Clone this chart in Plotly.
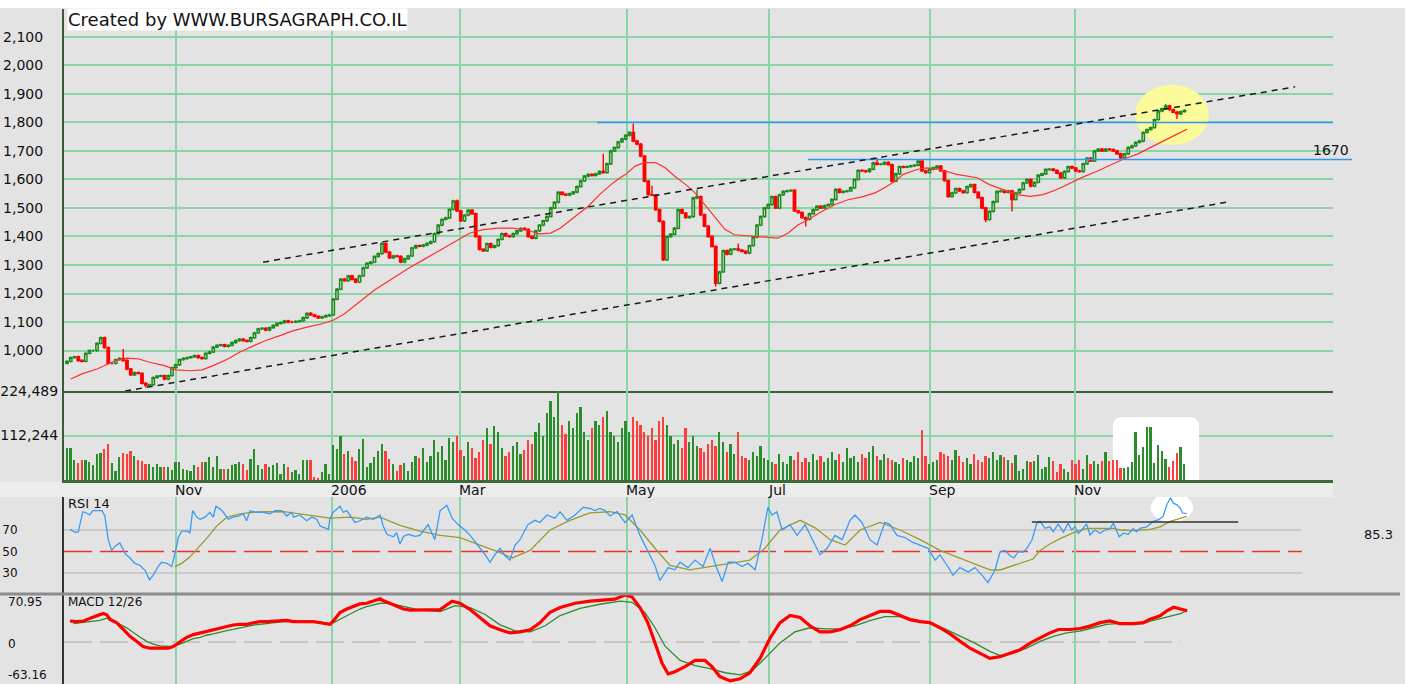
import plotly.graph_objects as go

# ---------------- data ----------------
# trading-day index 0..298, daily closes of the index
closes = [
    962, 975, 978, 965, 962, 990, 1000, 1000, 1025, 1045,
    1010, 955, 955, 968, 972, 965, 935, 915, 922, 920,
    885, 878, 880, 905, 910, 912, 900, 912, 940, 950,
    968, 972, 975, 978, 982, 975, 972, 990, 995, 1012,
    1018, 1020, 1015, 1018, 1028, 1035, 1040, 1035, 1032, 1045,
    1062, 1076, 1078, 1072, 1080, 1088, 1095, 1098, 1104, 1100,
    1100, 1102, 1104, 1115, 1130, 1125, 1120, 1115, 1118, 1122,
    1125, 1180, 1215, 1250, 1245, 1262, 1250, 1240, 1262, 1290,
    1306, 1310, 1330, 1340, 1376, 1345, 1325, 1332, 1330, 1310,
    1322, 1332, 1360, 1368, 1366, 1370, 1376, 1382, 1410, 1440,
    1460, 1465, 1495, 1525, 1490, 1455, 1475, 1492, 1480, 1400,
    1355, 1350, 1375, 1362, 1368, 1390, 1410, 1402, 1400, 1410,
    1420, 1428, 1425, 1400, 1394, 1420, 1440, 1455, 1470, 1500,
    1520, 1555, 1548, 1545, 1550, 1556, 1575, 1595, 1612, 1618,
    1614, 1620, 1628, 1624, 1655, 1700, 1712, 1732, 1742, 1755,
    1765, 1735, 1724, 1682, 1594, 1547, 1545, 1494, 1453, 1318,
    1400, 1408, 1429, 1494, 1482, 1466, 1470, 1535, 1540, 1476,
    1436, 1400, 1365, 1236, 1276, 1350, 1338, 1355, 1356, 1352,
    1348, 1342, 1368, 1398, 1440, 1470, 1500, 1512, 1540, 1500,
    1546, 1558, 1560, 1562, 1490, 1484, 1466, 1460, 1480, 1494,
    1506, 1500, 1508, 1512, 1530, 1565, 1555, 1558, 1560, 1571,
    1600, 1632, 1630, 1628, 1636, 1658, 1653, 1654, 1660, 1652,
    1594, 1620, 1645, 1643, 1645, 1648, 1650, 1664, 1630, 1624,
    1636, 1641, 1647, 1630, 1596, 1540, 1553, 1568, 1560, 1554,
    1575, 1582, 1555, 1536, 1500, 1459, 1488, 1522, 1558, 1560,
    1555, 1560, 1530, 1553, 1565, 1588, 1600, 1577, 1590, 1615,
    1620, 1635, 1636, 1632, 1622, 1606, 1628, 1645, 1640, 1630,
    1628, 1655, 1675, 1665, 1700, 1706, 1700, 1706, 1705, 1700,
    1690, 1676, 1690, 1712, 1718, 1730, 1735, 1765, 1775, 1782,
    1810, 1840, 1848, 1858, 1845, 1836, 1830, 1838, 1842,
]
first_open = 955
wick_high = {15: 1005, 65: 1135, 104: 1530, 143: 1690, 151: 1796, 156: 1578,
             168: 1565, 179: 1375, 216: 1675, 227: 1672, 293: 1865, 294: 1862}
wick_low = {21: 870, 173: 1225, 197: 1435, 245: 1450, 252: 1488, 296: 1812}

# daily volume, thousands
volume_k = [
    81, 81, 50, 42, 50, 50, 45, 37, 65, 69,
    77, 91, 42, 23, 57, 69, 65, 72, 61, 50,
    49, 41, 41, 33, 41, 34, 33, 34, 26, 45,
    45, 28, 26, 23, 37, 33, 45, 45, 57, 34,
    61, 28, 28, 28, 37, 41, 45, 41, 26, 54,
    77, 37, 28, 41, 33, 37, 42, 16, 41, 33,
    20, 26, 16, 50, 50, 50, 8, 6, 20, 41,
    15, 89, 77, 110, 65, 73, 57, 49, 77, 104,
    34, 42, 57, 72, 91, 73, 53, 41, 23, 37,
    42, 23, 45, 61,
    55, 80, 45, 60, 100, 70, 85, 50, 105, 95,
    110, 75, 60, 95, 80, 55, 70, 100, 130, 90,
    135, 120, 80, 60, 70, 85, 95, 65, 75, 100,
    90, 120, 145, 110, 170, 200, 160, 240, 140, 115,
    150, 130, 170, 185, 120, 100, 130, 150, 140, 160,
    175, 120, 110, 95, 130, 150, 120, 160, 150, 140,
    120, 110, 130, 100, 150, 160, 140, 110, 90, 100,
    80, 130, 95, 110, 85, 80, 70, 90, 100, 85,
    120, 95, 70, 90, 65, 120, 60, 55, 50, 70,
    60, 85, 55, 50, 45, 40, 65, 45, 40, 60,
    50, 70, 45, 55, 45, 65, 50, 60, 45, 55,
    70, 50, 65, 45, 80, 55, 60, 45, 65, 55,
    70, 85, 60, 50, 65, 55, 50, 45, 40, 55,
    50, 45, 60, 55, 125, 60, 40, 45, 50, 70,
    65, 60, 50, 75, 60, 45, 55, 40, 65, 50,
    45, 60, 55, 70, 50,
    64, 58, 50, 43, 63, 22, 28, 48, 46, 48,
    63, 28, 34, 59, 48, 20, 40, 28, 20, 50,
    40, 50, 28, 64, 40, 48, 40, 48, 71, 48,
    50, 50, 30, 30, 34, 46, 120, 63, 84, 134,
    134, 44, 88, 72, 52, 34, 48, 68, 83, 40,
]

# moving average of the price (day, value)
ma_points = [
    (1, 900), (4, 918), (8, 935), (11, 953), (13, 965), (16, 973), (19, 971), (22, 959),
    (26, 947), (29, 932), (33, 929), (36, 932), (39, 947), (43, 971), (46, 994), (50, 1018),
    (53, 1035), (57, 1053), (60, 1068), (64, 1082), (68, 1094), (71, 1106), (74, 1129),
    (82, 1212), (86, 1247), (91, 1288), (95, 1318), (99.5, 1353), (104, 1388), (107, 1409),
    (108, 1414), (111, 1424), (115, 1429), (119, 1429), (123, 1421), (126, 1409), (129, 1412),
    (131.5, 1429), (135, 1465), (139, 1506), (142, 1547), (145.6, 1588), (147.5, 1606),
    (149, 1618), (151.5, 1647), (154, 1659), (157, 1659), (159.5, 1641), (162, 1612),
    (165, 1582), (167.5, 1553), (170, 1512), (173, 1465), (175.5, 1424), (178, 1406),
    (181.6, 1402), (185.3, 1398), (188, 1394), (189.6, 1394), (192.3, 1412), (195, 1441),
    (197.6, 1459), (201.3, 1488), (204.8, 1512), (208.3, 1529), (212, 1539), (215.5, 1553),
    (218, 1571), (220.8, 1594), (223, 1618), (226.7, 1635), (229.3, 1641), (232.8, 1635),
    (237.3, 1618), (242.7, 1606), (246, 1582), (249.6, 1565), (253.3, 1547), (256.8, 1541),
    (260.3, 1547), (264, 1565), (267.5, 1588), (271, 1609), (274.7, 1629), (278, 1649),
    (281.6, 1671), (285.3, 1688), (288.8, 1712), (292.3, 1735), (296, 1759), (298.7, 1776),
]

rsi_points = [
    (0.8, 70.6), (2.1, 68), (3, 68), (4.2, 87), (5.1, 86), (6, 84), (6.9, 88), (7.5, 88),
    (9.3, 88), (10.1, 83), (10.6, 70.6), (11, 61), (11.9, 51), (12.8, 55), (14.1, 58),
    (15.5, 48), (16.8, 44), (18.1, 39), (19.5, 37), (20.8, 32.5), (22, 23.7), (23, 28),
    (24.3, 36), (25.2, 40), (26.6, 39), (27.9, 36), (28.8, 48), (29.7, 63), (30.6, 69),
    (31.9, 69), (32.8, 67.5), (33.5, 88), (34.6, 82), (35.5, 80), (36.8, 82), (38.1, 86.5),
    (39, 82), (39.7, 92), (40.8, 89.7), (41.7, 86.5), (43, 80), (44.3, 82), (45.7, 83),
    (47, 85), (47.9, 78.6), (48.8, 88), (50.6, 86.5), (52.4, 86.5), (54.1, 85), (55.5, 88),
    (57.3, 88), (58.6, 83), (59.9, 86.5), (60.4, 82), (62.1, 84), (63.9, 78.6), (65.3, 82),
    (66.6, 80), (67.5, 73.8), (68.8, 72), (69.7, 70.6), (70.1, 80), (71, 86.5), (72.8, 92),
    (73.7, 86.5), (74.6, 88), (75.5, 83), (76.8, 77), (78.1, 78.6), (79.9, 82), (81.7, 80),
    (83.5, 84), (84.3, 74), (85.3, 66), (87, 63.7), (87.9, 67.5), (88.8, 57), (89.7, 64),
    (91, 66), (92.8, 64), (94.1, 65), (96.3, 75), (98.1, 61), (99.5, 88), (101.3, 93),
    (102.7, 81), (104.3, 75), (106.1, 70), (107.5, 65), (109.6, 56), (111.5, 47), (112.8, 40),
    (114.1, 47), (115.5, 53), (116.8, 46), (118.1, 42), (119.5, 56), (120.8, 61), (122.9, 75),
    (124.8, 79), (126.1, 77), (128, 84), (130.1, 81), (131.5, 87), (133.3, 79), (135.5, 84),
    (137.6, 91), (139.5, 90), (140.8, 88), (142.1, 90), (143.5, 88), (144.8, 83), (146.7, 87),
    (148.8, 77), (150.7, 84), (152.8, 65), (154.9, 50), (156.8, 37), (158.1, 23), (160.3, 35),
    (162.1, 33), (163.5, 40), (165.6, 35), (167.5, 42), (169.6, 36), (171.5, 53), (173.1, 36),
    (174.7, 22), (176.3, 40), (178.1, 40), (180, 36), (181.6, 39), (183.5, 33), (185.3, 61),
    (186.9, 91), (188, 84), (189.3, 87), (190.7, 70), (192.8, 75), (194.7, 65), (196.8, 75),
    (198.7, 61), (200.8, 47), (202.7, 53), (204.8, 65), (206.7, 61), (208.8, 79), (210.1, 84),
    (212, 77), (214.1, 61), (216, 56), (218.1, 77), (219.5, 75), (221.3, 65), (223.5, 63),
    (225.3, 59), (227.5, 56), (229.6, 53), (231.5, 42), (232.8, 47), (234.7, 37), (236.3, 28),
    (238.1, 35), (240.3, 31), (242.1, 35), (244, 28), (245.6, 21), (247.5, 33), (248.8, 49.5),
    (250.1, 51), (251.5, 46), (252.5, 44), (253.7, 50), (255, 49.5), (255.9, 52.6),
    (257.3, 60.5), (258.6, 76), (259.5, 78), (260.8, 71.6), (262.1, 73), (263, 68.4),
    (264.3, 75.7), (265.7, 68), (267, 76.3), (267.9, 70), (268.8, 73), (269.7, 66.8),
    (270.6, 70), (271.9, 75.7), (272.8, 65.3), (274.1, 70), (275.5, 67), (276.8, 70),
    (278.1, 71), (279, 76.3), (279.9, 70), (280.6, 63.7), (281.7, 67), (283, 66),
    (284.3, 71.5), (285.2, 68.4), (286.1, 71.5), (287.9, 73), (289.7, 78), (291, 79.5),
    (292.3, 82.6), (293.3, 93.7), (294.3, 100), (295, 95), (295.9, 93.7), (296.8, 90.5),
    (297.5, 85.8), (298.6, 85.3),
]

rsi_signal_points = [
    (28.8, 36), (30.6, 39), (32.8, 45), (35.5, 55), (37.7, 64), (40, 74), (42.7, 82),
    (46.2, 85), (49.8, 86.5), (53.3, 87), (57.8, 87), (62.1, 85), (66.6, 82.7), (70.1, 81),
    (75.5, 82), (79.9, 80), (83.5, 82), (86.1, 78.6), (88.8, 74.4), (94.1, 69), (99.5, 65),
    (104.8, 63), (110.1, 56), (115.5, 49), (118.7, 44), (123.5, 51), (128.8, 70), (134.1, 79),
    (139.5, 86), (144.8, 87), (148.8, 84), (152.8, 70), (156.8, 53), (160.8, 37), (166.1, 33),
    (171.5, 36), (176.8, 39), (182.1, 42), (186.1, 53), (190.1, 70), (195.5, 79), (199.5, 72),
    (203.5, 61), (207.5, 56), (211.5, 70), (216.8, 77), (222.1, 70), (227.5, 61), (232.8, 51),
    (238.1, 44), (243.5, 37), (246.1, 33), (248.8, 32.8), (252.3, 37), (257.6, 43),
    (259.5, 51), (262.1, 57), (264.8, 62), (268.4, 67.5), (271.9, 71.6), (275.5, 71.6),
    (279, 71.6), (280.8, 70), (284.3, 69.4), (288.8, 70.5), (291.5, 73), (294.2, 78),
    (296, 80), (298.6, 82.6),
]

macd_points = [
    (0.8, 31.8), (2.6, 30.8), (4.4, 31.8), (6.1, 36), (7.9, 39.5), (9.7, 43), (10.6, 41),
    (11.5, 34), (13.3, 29), (15, 19), (16.8, 8.7), (18.6, 1), (20.3, -6.7), (22.1, -9.2),
    (23.9, -9.2), (25.7, -10.3), (27, -9.2), (28.3, -6.7), (30.1, 1), (31.9, 7.2), (33.7, 11.3),
    (35.5, 13.9), (37.2, 16.4), (39, 19), (40.8, 21.5), (42.6, 24), (44.3, 25.7), (46.1, 26.7),
    (47.9, 26.7), (49.7, 29.2), (51.5, 30.8), (53.3, 30.8), (55, 31.8), (56.8, 31.8),
    (58.6, 32.8), (60.4, 30.8), (62.1, 30.8), (63.9, 30.8), (65.7, 30.8), (67.5, 29.2),
    (69.3, 26.7), (70.1, 26.7), (71, 31.8), (71.9, 38), (72.8, 44.6), (74.6, 49.8),
    (76.3, 53.4), (78.1, 57.5), (79.9, 58.5), (81.7, 61.6), (83.5, 65.2), (84.3, 62.6),
    (86.1, 58.5), (87.9, 55), (89.7, 49.8), (91.5, 48.2), (94.1, 48.2), (99.5, 49),
    (102.7, 61.6), (104.8, 58.5), (107.5, 49), (110.1, 37), (112.8, 24.6), (115.5, 18.5),
    (118.1, 13.9), (120.8, 15.4), (123.5, 18.5), (126.1, 29), (128.8, 44.7), (131.5, 52),
    (135.5, 58.5), (139.5, 61.6), (143.5, 63), (146.1, 64.7), (148.8, 71), (150.7, 67.8),
    (152.8, 52), (154.9, 29), (156.8, -1.5), (158.7, -32), (160.3, -47.7), (162.1, -44.7),
    (164.8, -37), (167.5, -27.7), (170.1, -27.7), (172, -37), (174.1, -52), (176.8, -58.5),
    (179.5, -55.4), (182.1, -46.2), (184.8, -24.6), (187.5, 6.2), (190.1, 29), (192.8, 40),
    (195.5, 37), (198.1, 24.6), (200.8, 15.4), (203.5, 15.4), (206.1, 18.5), (208.8, 24.6),
    (211.5, 33.9), (214.1, 40), (216.8, 46.2), (219.5, 46.2), (222.1, 40), (224.8, 33.9),
    (227.5, 30.8), (230.1, 29.3), (232.8, 21.6), (235.5, 12.3), (238.1, 1.5), (240.8, -9.2),
    (243.5, -17), (246.1, -24.6), (248.8, -22), (251.5, -17), (254.1, -11.8), (256.8, -1.5),
    (259.5, 6.2), (262.1, 13.9), (264.4, 19), (267.5, 19), (270.1, 20.5), (272.8, 24.1),
    (275.5, 29.3), (278.1, 31.8), (280.8, 27.7), (284.4, 27.7), (287, 29.3), (288.8, 34.4),
    (291.5, 39.5), (293.3, 47.2), (295.1, 52.4), (296.9, 49.8), (298.7, 47.2),
]

macd_signal_points = [
    (1.7, 27.7), (3.5, 29.2), (5.2, 30.8), (7, 31.8), (8.8, 32.8), (10.6, 36), (12.3, 32),
    (14.1, 26.7), (15.9, 21.5), (17.7, 13.9), (19.5, 7.2), (21.3, 1), (23, -3), (24.8, -5.6),
    (26.6, -6.7), (28.3, -6.7), (30.1, -3), (31.9, 1), (33.7, 5.1), (35.5, 7.2), (37.2, 10.3),
    (39, 12.3), (40.8, 15.4), (42.6, 17.4), (44.3, 19), (46.1, 21.5), (47.9, 23), (49.7, 25.7),
    (51.5, 26.7), (53.3, 28.2), (55, 29.2), (57.7, 30.8), (62.1, 30.8), (67.5, 30.3),
    (70.1, 27.7), (71, 29), (72.8, 34.4), (74.6, 39.5), (76.3, 44.6), (78.1, 49.8),
    (79.9, 53.4), (81.7, 56.4), (83.5, 58.5), (85.2, 58.5), (87, 57.5), (88.8, 55),
    (91.5, 51.3), (94.1, 48.2), (99.5, 46), (103.5, 55), (107.5, 52), (111.5, 41.6),
    (115.5, 26), (119.5, 17), (123.5, 15.4), (127.5, 24.6), (131.5, 40), (136.8, 50.8),
    (142.1, 57), (147.5, 61.6), (150.7, 60), (154.1, 44.7), (156.8, 21.6), (159.5, -6.2),
    (163.5, -27.7), (167.5, -35.4), (171.5, -40), (175.5, -46.2), (179.5, -49.3),
    (182.7, -43), (186.1, -24.6), (190.1, -1.5), (194.1, 15.4), (198.1, 21.6), (202.1, 20),
    (206.1, 20), (210.1, 24.6), (214.1, 32.3), (218.1, 38.5), (222.1, 38.5), (226.1, 33.9),
    (230.1, 27.7), (234.1, 20), (238.1, 9.2), (242.1, -1.5), (246.1, -13.9), (248.8, -20),
    (252.3, -17), (255.9, -9.2), (259.5, 1), (263, 8.7), (266.6, 13.9), (270.1, 16.4),
    (273.7, 21.6), (277.2, 26.7), (279.9, 27.7), (284.4, 27.7), (287, 27.7), (289.7, 32.9),
    (293.3, 38), (296.9, 43), (298.7, 47.2),
]

month_days = [29.1, 70.7, 104.8, 149.3, 187.2, 230.1, 268.8]
month_labels = ["Nov", "2006", "Mar", "May", "Jul", "Sep", "Nov"]
price_ticks = [1000, 1100, 1200, 1300, 1400, 1500, 1600, 1700, 1800, 1900, 2000, 2100]
volume_ticks_k = [112.244, 224.489]
volume_tick_text = ["112,244", "224,489"]
rsi_ticks = [30, 50, 70]
macd_labels = ["70.95", "0", "-63.16"]
macd_range = [-63.16, 70.95]

# drawn annotations on the price panel: (day, price) end points
trend_lines = [((52.3, 1310), (327.5, 1925)), ((15.5, 858), (309.6, 1521))]
level_1800 = 1800
level_1670 = 1670
rsi_marker_level = 77.4
last_rsi_text = "85.3"

# ---------------- geometry helpers ----------------
W, H = 1412, 684
L, R, T, B = 64, 1333, 9, 684


def fx(p):
    return (p - L) / (R - L)


def fy(p):
    return (B - p) / (B - T)


BG = "#e3e3e3"
GRID = "#8ad5a6"
FONT = "DejaVu Sans"

days = list(range(len(closes)))
opens = [first_open] + closes[:-1]
highs = [wick_high.get(i, max(o, c) + 4) for i, (o, c) in enumerate(zip(opens, closes))]
lows = [wick_low.get(i, min(o, c) - 4) for i, (o, c) in enumerate(zip(opens, closes))]
vol_colors = ["#2a8c2a" if c >= o else "#ff3d3d" for o, c in zip(opens, closes)]

ma_day, ma_val = zip(*ma_points)
rsi_day, rsi_val = zip(*rsi_points)
rsig_day, rsig_val = zip(*rsi_signal_points)
macd_day, macd_val = zip(*macd_points)
msig_day, msig_val = zip(*macd_signal_points)

fig = go.Figure()
fig.add_trace(go.Candlestick(
    x=days, open=opens, high=highs, low=lows, close=closes, xaxis="x", yaxis="y",
    increasing=dict(line=dict(color="#1e8a1e", width=1.4), fillcolor="#b8dcb8"),
    decreasing=dict(line=dict(color="#ff0000", width=1.4), fillcolor="#ff0000"),
    whiskerwidth=0, hoverinfo="skip", showlegend=False))
fig.add_trace(go.Scatter(x=ma_day, y=ma_val, mode="lines", xaxis="x", yaxis="y",
                         line=dict(color="#ff3030", width=1.2), showlegend=False))
fig.add_trace(go.Bar(x=days, y=volume_k, xaxis="x2", yaxis="y2", width=0.5,
                     marker=dict(color=vol_colors, line=dict(width=0)), showlegend=False))
fig.add_trace(go.Scatter(x=rsig_day, y=rsig_val, mode="lines", xaxis="x3", yaxis="y3",
                         line=dict(color="#9c9a30", width=1.3), showlegend=False))
fig.add_trace(go.Scatter(x=rsi_day, y=rsi_val, mode="lines", xaxis="x3", yaxis="y3",
                         line=dict(color="#3b9cf5", width=1.3), showlegend=False))
fig.add_trace(go.Scatter(x=msig_day, y=msig_val, mode="lines", xaxis="x4", yaxis="y4",
                         line=dict(color="#2e8b2e", width=1.3), showlegend=False))
fig.add_trace(go.Scatter(x=macd_day, y=macd_val, mode="lines", xaxis="x4", yaxis="y4",
                         line=dict(color="#ff0000", width=3.2), showlegend=False))

x_range = [-0.8, 337.6]
common_x = dict(range=x_range, tickvals=month_days, showticklabels=False, showgrid=True,
                gridcolor=GRID, gridwidth=1.5, zeroline=False, ticks="", fixedrange=True)
axis_font = dict(family=FONT, size=14, color="#111111")

shapes = []
# white borders of the picture
shapes.append(dict(type="rect", xref="paper", yref="paper", x0=fx(1405), x1=fx(1415),
                   y0=fy(690), y1=fy(-5), fillcolor="white", line=dict(width=0), layer="above"))
shapes.append(dict(type="rect", xref="paper", yref="paper", x0=fx(-5), x1=fx(1415),
                   y0=fy(8), y1=fy(-5), fillcolor="white", line=dict(width=0), layer="above"))
# date label band
shapes.append(dict(type="rect", xref="paper", yref="paper", x0=fx(0), x1=fx(1333),
                   y0=fy(497), y1=fy(482), fillcolor="#ececec", line=dict(width=0), layer="below"))
# separator between RSI and MACD
shapes.append(dict(type="line", xref="paper", yref="paper", x0=fx(0), x1=fx(1400),
                   y0=fy(594), y1=fy(594), line=dict(color="#8c8c8c", width=3)))
# yellow highlight
shapes.append(dict(type="circle", xref="x", yref="y", x0=284.8, x1=304.5, y0=1721, y1=1932,
                   fillcolor="#fbfb9c", line=dict(width=0), layer="between"))
# horizontal levels
shapes.append(dict(type="line", xref="paper", yref="y", x0=fx(597), x1=fx(1333),
                   y0=level_1800, y1=level_1800, line=dict(color="#2f97f2", width=1.5)))
shapes.append(dict(type="line", xref="paper", yref="y", x0=fx(808), x1=fx(1352),
                   y0=level_1670, y1=level_1670, line=dict(color="#2f97f2", width=1.5)))
# trend channel
for (d0, p0), (d1, p1) in trend_lines:
    shapes.append(dict(type="line", xref="x", yref="y", x0=d0, y0=p0, x1=d1, y1=p1,
                       line=dict(color="#1a1a1a", width=1.5, dash="6px,5px")))
# white rounded box in volume panel
bx0, bx1, by0, by1, rx, ry = 278.9, 301.9, 0, 158.9, 2.7, 25
shapes.append(dict(
    type="path", xref="x2", yref="y2", layer="between", fillcolor="white", line=dict(width=0),
    path=(f"M {bx0},{by0} L {bx1},{by0} L {bx1},{by1 - ry} Q {bx1},{by1} {bx1 - rx},{by1} "
          f"L {bx0 + rx},{by1} Q {bx0},{by1} {bx0},{by1 - ry} Z")))
# RSI reference lines
for lvl in (30, 70):
    shapes.append(dict(type="line", xref="x3", yref="y3", x0=-0.8, x1=329.3, y0=lvl, y1=lvl,
                       line=dict(color="#c2c2c2", width=1.5), layer="below"))
shapes.append(dict(type="line", xref="x3", yref="y3", x0=-0.8, x1=329.3, y0=50, y1=50,
                   line=dict(color="#e8342f", width=1.5, dash="28px,8px"), layer="below"))
shapes.append(dict(type="circle", xref="x3", yref="y3", x0=289, x1=300.3, y0=77.4, y1=104.4,
                   fillcolor="white", line=dict(width=0), layer="between"))
shapes.append(dict(type="line", xref="x3", yref="y3", x0=257.3, x1=312.3,
                   y0=rsi_marker_level, y1=rsi_marker_level, line=dict(color="#333333", width=1.5)))
# MACD zero line
shapes.append(dict(type="line", xref="x4", yref="y4", x0=-0.8, x1=297, y0=0, y1=0,
                   line=dict(color="#bdbdbd", width=1.5, dash="28px,8px"), layer="below"))

annotations = []
annotations.append(dict(text="Created by WWW.BURSAGRAPH.CO.IL", xref="paper", yref="paper",
                        x=fx(67), y=fy(20), xanchor="left", yanchor="middle", showarrow=False,
                        bgcolor="white", borderpad=0, font=dict(family=FONT, size=18, color="#111")))
for d, lab in zip(month_days, month_labels):
    annotations.append(dict(text=lab, xref="x2", yref="paper", x=d, y=fy(490), xanchor="left",
                            yanchor="middle", xshift=-3, showarrow=False,
                            font=dict(family=FONT, size=14, color="#111")))
annotations.append(dict(text="RSI 14", xref="paper", yref="paper", x=fx(66), y=fy(503),
                        xanchor="left", yanchor="middle", showarrow=False,
                        font=dict(family=FONT, size=13, color="#111")))
annotations.append(dict(text="MACD 12/26", xref="paper", yref="paper", x=fx(66), y=fy(602),
                        xanchor="left", yanchor="middle", showarrow=False,
                        font=dict(family=FONT, size=12, color="#111")))
for lab, ypx in zip(macd_labels, (602, 644, 675)):
    annotations.append(dict(text=lab, xref="paper", yref="paper", x=fx(6), y=fy(ypx),
                            xanchor="left", yanchor="middle", showarrow=False,
                            font=dict(family=FONT, size=12, color="#111")))
annotations.append(dict(text=last_rsi_text, xref="paper", yref="paper", x=fx(1362), y=fy(534),
                        xanchor="left", yanchor="middle", showarrow=False,
                        font=dict(family=FONT, size=13, color="#111")))
annotations.append(dict(text=str(level_1670), xref="paper", yref="y", x=fx(1311), y=1670,
                        xanchor="left", yanchor="bottom", yshift=0, showarrow=False,
                        font=dict(family=FONT, size=14, color="#111")))

fig.update_layout(
    width=W, height=H, margin=dict(l=L, r=W - R, t=T, b=H - B, autoexpand=False),
    paper_bgcolor=BG, plot_bgcolor=BG, showlegend=False, hovermode=False,
    bargap=0, boxgap=0.08,
    xaxis=dict(common_x, anchor="y", showline=True, linecolor="#3c5a3c", linewidth=2,
               rangeslider=dict(visible=False)),
    xaxis2=dict(common_x, anchor="y2", matches="x", showline=True, linecolor="#3a6a3a", linewidth=3),
    xaxis3=dict(common_x, anchor="y3", matches="x"),
    xaxis4=dict(common_x, anchor="y4", matches="x"),
    yaxis=dict(domain=[fy(391), 1], range=[858, 2198], tickvals=price_ticks,
               ticktext=[f"{v:,}" for v in price_ticks], showgrid=True, gridcolor=GRID,
               gridwidth=1.5, zeroline=False, showline=True, linecolor="#3c5a3c", linewidth=2,
               ticks="", ticklabelstandoff=16, tickfont=axis_font, fixedrange=True),
    yaxis2=dict(domain=[fy(480), fy(391)], range=[0, 224.489], tickvals=volume_ticks_k,
                ticktext=volume_tick_text, showgrid=True, gridcolor=GRID, gridwidth=1.5,
                zeroline=False, showline=True, linecolor="#3c5a3c", linewidth=2, ticks="",
                ticklabelstandoff=1, tickfont=axis_font, fixedrange=True),
    yaxis3=dict(domain=[fy(593), fy(497)], range=[11.4, 100.7], tickvals=rsi_ticks,
                ticktext=[str(v) for v in rsi_ticks], showgrid=False, zeroline=False,
                showline=True, linecolor="#333333", linewidth=2, ticks="",
                ticklabelstandoff=42, tickfont=dict(family=FONT, size=12, color="#111"),
                fixedrange=True),
    yaxis4=dict(domain=[0, fy(595)], range=macd_range, showticklabels=False, showgrid=False,
                zeroline=False, showline=True, linecolor="#333333", linewidth=2, ticks="",
                fixedrange=True),
    shapes=shapes,
    annotations=annotations,
)

fig.write_html("out.html", config={"displayModeBar": False},
               post_script="document.body.style.margin='0';document.body.style.overflow='hidden';")
